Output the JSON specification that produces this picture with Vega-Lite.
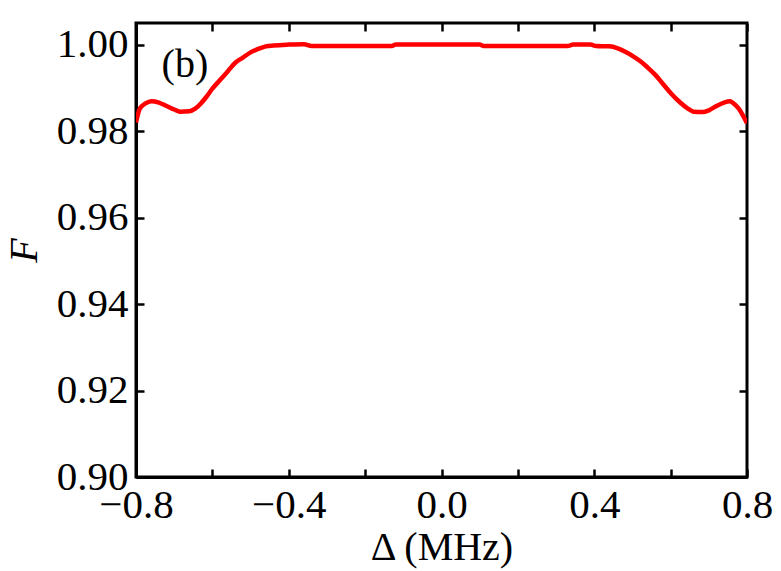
{
  "$schema": "https://vega.github.io/schema/vega-lite/v6.json",
  "width": 611,
  "height": 454,
  "autosize": {"type": "none"},
  "padding": {"left": 136, "top": 23, "right": 34, "bottom": 94},
  "background": "white",
  "config": {
    "view": {"stroke": "black", "strokeWidth": 3},
    "font": "Liberation Serif",
    "axis": {
      "grid": false,
      "domainColor": "black",
      "domainWidth": 3,
      "tickColor": "black",
      "tickWidth": 2.5,
      "tickSize": -8,
      "labelFont": "Liberation Serif",
      "labelFontSize": 41,
      "labelColor": "black",
      "titleFont": "Liberation Serif",
      "titleFontSize": 40,
      "titleColor": "black",
      "titleFontWeight": "normal"
    }
  },
  "layer": [
    {
      "data": {
        "values": [
          {"x": -0.80, "y": 0.9820},
          {"x": -0.79, "y": 0.9852},
          {"x": -0.775, "y": 0.9864},
          {"x": -0.76, "y": 0.9869},
          {"x": -0.74, "y": 0.9866},
          {"x": -0.72, "y": 0.9858},
          {"x": -0.70, "y": 0.9850},
          {"x": -0.685, "y": 0.9845},
          {"x": -0.66, "y": 0.9846},
          {"x": -0.645, "y": 0.9852},
          {"x": -0.63, "y": 0.9864},
          {"x": -0.615, "y": 0.9880},
          {"x": -0.60, "y": 0.9898},
          {"x": -0.58, "y": 0.9918},
          {"x": -0.56, "y": 0.9938},
          {"x": -0.54, "y": 0.9958},
          {"x": -0.52, "y": 0.9970},
          {"x": -0.50, "y": 0.9982},
          {"x": -0.48, "y": 0.9990},
          {"x": -0.46, "y": 0.9996},
          {"x": -0.44, "y": 0.9998},
          {"x": -0.40, "y": 1.0000},
          {"x": -0.36, "y": 1.0001},
          {"x": -0.34, "y": 0.9997},
          {"x": -0.30, "y": 0.9997},
          {"x": -0.20, "y": 0.9997},
          {"x": -0.13, "y": 0.9997},
          {"x": -0.12, "y": 1.0000},
          {"x": -0.05, "y": 1.0000},
          {"x": 0.00, "y": 1.0000},
          {"x": 0.10, "y": 1.0000},
          {"x": 0.11, "y": 0.9997},
          {"x": 0.20, "y": 0.9997},
          {"x": 0.33, "y": 0.9997},
          {"x": 0.345, "y": 1.0000},
          {"x": 0.39, "y": 1.0000},
          {"x": 0.405, "y": 0.9997},
          {"x": 0.44, "y": 0.9996},
          {"x": 0.46, "y": 0.9992},
          {"x": 0.48, "y": 0.9984},
          {"x": 0.50, "y": 0.9974},
          {"x": 0.52, "y": 0.9962},
          {"x": 0.54, "y": 0.9947},
          {"x": 0.56, "y": 0.9930},
          {"x": 0.58, "y": 0.9909},
          {"x": 0.60, "y": 0.9888},
          {"x": 0.625, "y": 0.9866},
          {"x": 0.645, "y": 0.9852},
          {"x": 0.66, "y": 0.9845},
          {"x": 0.685, "y": 0.9844},
          {"x": 0.70, "y": 0.9848},
          {"x": 0.72, "y": 0.9858},
          {"x": 0.74, "y": 0.9866},
          {"x": 0.755, "y": 0.9869},
          {"x": 0.77, "y": 0.9860},
          {"x": 0.78, "y": 0.9850},
          {"x": 0.79, "y": 0.9835},
          {"x": 0.80, "y": 0.9818}
        ]
      },
      "mark": {"type": "line", "color": "#ff0000", "strokeWidth": 4.5, "interpolate": "monotone", "clip": true},
      "encoding": {
        "x": {
          "field": "x", "type": "quantitative",
          "scale": {"domain": [-0.8, 0.8], "nice": false, "zero": false},
          "axis": {
            "orient": "bottom",
            "title": "Δ (MHz)",
            "values": [-0.8, -0.6, -0.4, -0.2, 0, 0.2, 0.4, 0.6, 0.8],
            "format": ".1f",
            "labelExpr": "abs(round(datum.value*10)) % 4 == 0 ? datum.label : ''",
            "labelPadding": 16,
            "labelFlush": false,
            "titlePadding": 2
          }
        },
        "y": {
          "field": "y", "type": "quantitative",
          "scale": {"domain": [0.9, 1.005], "nice": false, "zero": false},
          "axis": {
            "orient": "left",
            "title": "F",
            "titleFontStyle": "italic",
            "values": [0.9, 0.92, 0.94, 0.96, 0.98, 1.0],
            "format": ".2f",
            "labelPadding": 16,
            "labelFlush": false,
            "titlePadding": 12
          }
        }
      }
    },
    {
      "data": {"values": [{"x": -0.672, "y": 0.9953, "label": "(b)"}]},
      "mark": {"type": "text", "fontSize": 40, "font": "Liberation Serif", "color": "black"},
      "encoding": {
        "x": {
          "field": "x", "type": "quantitative",
          "scale": {"domain": [-0.8, 0.8], "nice": false, "zero": false},
          "axis": {"orient": "top", "title": null, "labels": false, "domain": false,
                   "values": [-0.8, -0.6, -0.4, -0.2, 0, 0.2, 0.4, 0.6, 0.8]}
        },
        "y": {
          "field": "y", "type": "quantitative",
          "scale": {"domain": [0.9, 1.005], "nice": false, "zero": false},
          "axis": {"orient": "right", "title": null, "labels": false, "domain": false,
                   "values": [0.9, 0.92, 0.94, 0.96, 0.98, 1.0]}
        },
        "text": {"field": "label"}
      }
    }
  ],
  "resolve": {"axis": {"x": "independent", "y": "independent"}}
}
